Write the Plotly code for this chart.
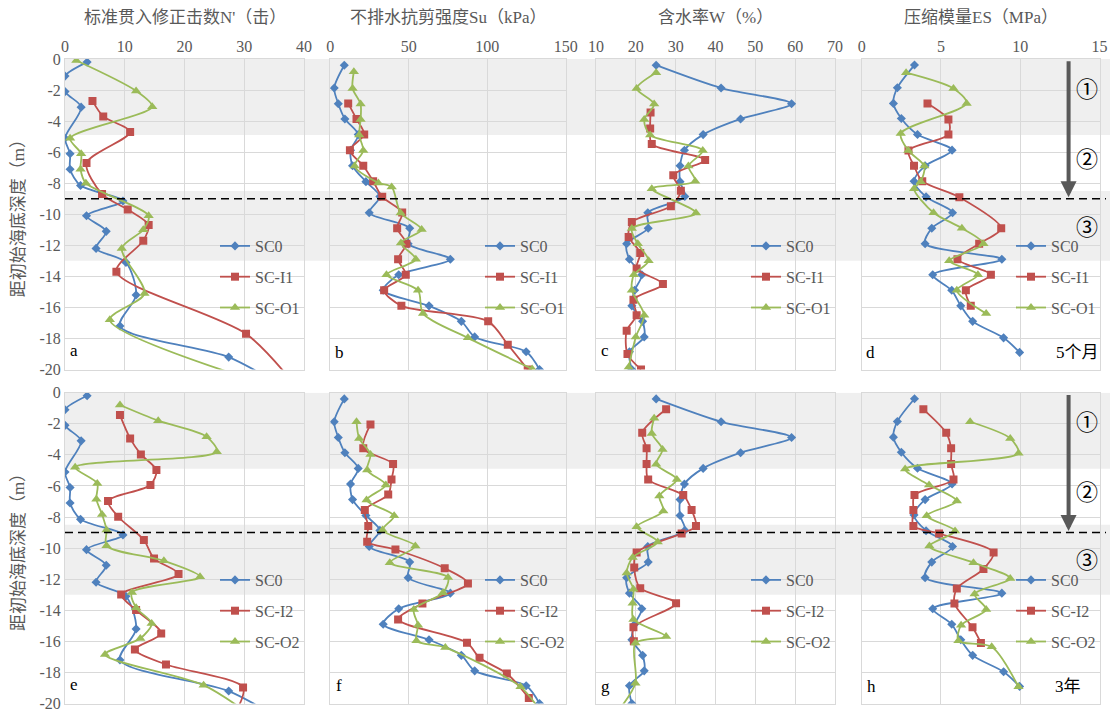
import plotly.graph_objects as go
from plotly.subplots import make_subplots

# ---------------- data ----------------
# SC0 (baseline, shared by both rows)
spt_sc0_depth = [-0.2, -1.1, -2.1, -3.1, -5.1, -6.1, -7.1, -8.15, -9.15, -10.1, -11.1, -12.2, -13.1, -15.2, -17.2, -19.2, -21.0]
spt_sc0 = [3.7, 0, 0, 2.7, 0, 0.85, 0.85, 2.6, 9.7, 3.6, 6.9, 5.2, 10.2, 11.9, 9.2, 27.4, 36]
lab_sc0_depth = [-0.4, -1.87, -2.88, -3.86, -4.87, -5.88, -6.88, -7.9, -8.86, -9.9, -10.9, -11.9, -12.9, -13.9, -14.9, -15.9, -16.9, -17.9, -18.86, -20.0]
su_sc0 = [8.9, 2.5, 5.1, 9.3, 17.8, 12.9, 14.2, 22.7, 31.6, 24.8, 50.6, 49.6, 76.5, 43.6, 33.7, 62.9, 83.5, 92.0, 124.8, 133.3]
w_sc0 = [25.1, 41.4, 59.1, 46.3, 36.9, 32.2, 31.1, 31.1, 32.3, 23.0, 23.1, 17.7, 18.4, 21.5, 19.7, 19.0, 21.7, 22.1, 18.4, 19.0]
es_sc0_depth = [-0.39, -1.85, -2.86, -3.83, -4.86, -5.87, -6.88, -7.87, -8.88, -9.9, -10.9, -11.9, -12.9, -13.9, -14.9, -15.9, -16.9, -17.96, -18.9]
es_sc0 = [3.33, 2.25, 2.0, 2.5, 3.52, 5.7, 4.0, 3.3, 4.06, 5.73, 4.42, 4.0, 8.84, 4.48, 5.68, 6.25, 7.0, 8.95, 9.96]

# 5 months: SC-I1 / SC-O1
spt_i1_depth = [-2.7, -3.7, -4.7, -6.7, -8.7, -9.7, -10.7, -11.7, -13.7, -17.7, -21.0]
spt_i1 = [4.6, 6.4, 10.9, 3.6, 6.2, 10.5, 14.0, 13.1, 8.6, 30.3, 38.5]
spt_o1_depth = [-0.1, -2.06, -3.08, -5.1, -6.1, -7.1, -8.0, -10.1, -11.0, -12.2, -15.1, -16.8, -21.0]
spt_o1 = [1.9, 11.9, 14.6, 0.85, 2.7, 2.6, 3.5, 14.0, 13.1, 9.5, 13.3, 7.5, 34]
su_i1_depth = [-2.86, -3.87, -4.86, -5.87, -6.88, -7.87, -8.88, -9.89, -10.9, -11.9, -12.9, -13.9, -14.9, -15.9, -16.9, -18.4, -20.0]
su_i1 = [11.4, 16.7, 21.6, 12.5, 21.0, 27.3, 33.1, 45.8, 42.6, 48.5, 43.2, 48.1, 34.3, 45.3, 100.6, 113.1, 125.8]
su_o1_depth = [-0.82, -1.9, -2.9, -3.9, -4.9, -5.9, -6.9, -7.98, -8.24, -9.92, -10.99, -11.85, -12.9, -13.9, -14.9, -16.4, -17.96, -19.96]
su_o1 = [15.0, 14.2, 19.3, 19.3, 18.4, 21.0, 15.5, 30.6, 39.1, 44.8, 58.2, 45.0, 54.5, 35.8, 55.9, 59.1, 87.7, 128.6]
w_i1_depth = [-3.44, -4.47, -5.48, -6.5, -7.48, -8.49, -9.48, -10.5, -11.46, -12.5, -13.5, -14.5, -15.5, -16.5, -17.5, -19.0, -20.0]
w_i1 = [23.7, 23.6, 24.0, 37.4, 29.4, 31.3, 28.8, 19.0, 18.2, 21.1, 20.2, 26.8, 19.4, 20.2, 17.7, 17.9, 21.3]
w_o1_depth = [-0.88, -1.9, -2.9, -3.9, -4.9, -5.9, -6.9, -7.87, -8.35, -9.92, -10.92, -11.9, -13.0, -13.9, -14.9, -16.5, -17.9, -19.85]
w_o1 = [25.1, 20.2, 24.6, 22.1, 23.6, 36.8, 33.2, 34.9, 24.0, 35.1, 19.0, 20.5, 23.2, 19.5, 19.0, 22.1, 20.0, 18.2]
es_i1_depth = [-2.86, -3.9, -4.86, -5.9, -6.88, -7.87, -8.9, -10.9, -11.9, -12.9, -13.9, -14.9, -15.9]
es_i1 = [4.15, 5.47, 5.47, 2.95, 3.3, 3.82, 6.16, 8.8, 7.41, 6.04, 8.15, 6.57, 6.88]
es_o1_depth = [-0.88, -1.9, -2.86, -4.8, -5.9, -6.9, -7.9, -8.35, -9.9, -10.9, -11.9, -13.0, -13.9, -14.9, -16.4]
es_o1 = [2.8, 5.79, 6.62, 2.46, 2.94, 3.95, 3.72, 3.3, 4.53, 6.32, 7.68, 5.52, 7.33, 6.0, 7.85]

# 3 years: SC-I2 / SC-O2
spt_i2_depth = [-1.44, -2.94, -3.97, -4.98, -5.94, -6.97, -7.98, -9.48, -10.67, -11.67, -12.98, -13.99, -15.49, -16.52, -17.49, -18.97, -20.6]
spt_i2 = [9.2, 10.9, 12.7, 15.3, 14.3, 7.2, 8.9, 13.2, 14.9, 19.0, 9.4, 11.9, 16.1, 11.7, 16.9, 29.8, 28.5]
spt_o2_depth = [-0.79, -1.8, -2.83, -3.8, -4.8, -5.84, -6.85, -7.83, -8.84, -9.85, -10.82, -11.85, -12.85, -13.84, -14.85, -15.82, -16.85, -18.82, -21.0]
spt_o2 = [9.2, 15.6, 23.7, 25.4, 1.7, 5.4, 5.25, 6.2, 6.95, 6.95, 16.55, 22.6, 11.2, 11.9, 14.5, 12.6, 6.7, 23.2, 32]
su_i2_depth = [-2.04, -3.58, -4.59, -5.58, -6.55, -7.55, -8.58, -9.59, -10.09, -11.3, -12.27, -13.56, -14.59, -16.09, -17.06, -18.07, -19.64]
su_i2 = [25.6, 21.0, 40.0, 39.0, 36.9, 22.0, 24.2, 23.5, 41.5, 72.9, 87.7, 58.7, 43.2, 87.1, 95.1, 112.5, 126.5]
su_o2_depth = [-1.87, -2.94, -3.97, -4.98, -5.94, -6.91, -7.92, -8.84, -9.87, -10.94, -11.89, -12.88, -13.95, -14.96, -15.97, -16.4, -18.93, -20.5]
su_o2 = [16.7, 18.4, 25.6, 23.5, 35.4, 23.1, 40.7, 33.3, 54.2, 37.9, 75.0, 71.8, 53.2, 55.9, 54.9, 73.3, 121.2, 134]
w_i2_depth = [-1.07, -2.58, -3.58, -4.59, -5.58, -6.59, -7.55, -8.58, -9.06, -10.28, -11.25, -12.58, -13.55, -15.09, -16.0]
w_i2 = [27.6, 21.6, 22.7, 22.7, 23.1, 31.9, 34.0, 35.1, 31.5, 20.2, 19.6, 21.1, 30.1, 19.4, 19.5]
w_o2_depth = [-1.65, -2.62, -3.65, -4.61, -5.58, -6.65, -7.62, -8.63, -9.6, -10.6, -11.6, -12.64, -13.55, -14.6, -15.69, -16.1, -18.7, -20.5]
w_o2 = [24.6, 24.0, 26.7, 25.1, 30.3, 25.9, 26.9, 20.2, 25.5, 19.2, 17.7, 19.4, 19.2, 19.4, 27.6, 19.9, 19.9, 15.5]
es_i2_depth = [-1.07, -2.58, -3.58, -4.59, -5.58, -6.59, -7.55, -8.58, -9.06, -10.28, -11.35, -12.6, -13.56, -15.1, -16.1]
es_i2 = [3.89, 5.33, 5.64, 5.64, 5.79, 3.33, 3.26, 3.26, 4.88, 8.32, 7.68, 6.0, 5.85, 6.99, 7.52]
es_o2_depth = [-1.87, -2.94, -3.9, -4.91, -5.94, -6.97, -7.92, -8.9, -9.87, -10.94, -11.95, -12.96, -13.95, -14.96, -15.97, -16.35, -18.93]
es_o2 = [6.84, 9.37, 9.89, 2.74, 4.25, 6.0, 4.1, 5.89, 4.27, 7.05, 9.37, 7.12, 7.85, 6.27, 6.1, 8.2, 9.89]

col_titles = ["标准贯入修正击数N'（击）", "不排水抗剪强度Su（kPa）", "含水率W（%）", "压缩模量ES（MPa）"]
x_ranges = [[0, 40], [0, 150], [10, 70], [0, 15]]
x_dticks = [10, 50, 10, 5]
panel_letters = ["a", "b", "c", "d", "e", "f", "g", "h"]
y_title = "距初始海底深度（m）"
y_ticks = list(range(0, -21, -2))
y_ticktext = [str(v) for v in y_ticks]

# ---------------- styling ----------------
W, H = 1110, 710
BLUE, RED, GREEN = "#4F81BD", "#C0504D", "#9BBB59"
GRAY_TXT = "#595959"
GRID = "#d9d9d9"
SERIF = "Liberation Serif, 'Times New Roman', 'Noto Sans CJK SC', serif"
CJK = "Liberation Serif, 'Noto Sans CJK SC', sans-serif"

xpix = [(65, 304), (330.3, 565.7), (596, 835), (861.7, 1099.5)]
ypix = [(59, 369.5), (392.7, 703.5)]

fig = make_subplots(rows=2, cols=4)


def px_x(p):
    return p / W


def px_y(p):
    return (H - p) / H


rows_data = [
    [
        (spt_sc0, spt_sc0_depth, spt_i1, spt_i1_depth, spt_o1, spt_o1_depth),
        (su_sc0, lab_sc0_depth, su_i1, su_i1_depth, su_o1, su_o1_depth),
        (w_sc0, lab_sc0_depth, w_i1, w_i1_depth, w_o1, w_o1_depth),
        (es_sc0, es_sc0_depth, es_i1, es_i1_depth, es_o1, es_o1_depth),
    ],
    [
        (spt_sc0, spt_sc0_depth, spt_i2, spt_i2_depth, spt_o2, spt_o2_depth),
        (su_sc0, lab_sc0_depth, su_i2, su_i2_depth, su_o2, su_o2_depth),
        (w_sc0, lab_sc0_depth, w_i2, w_i2_depth, w_o2, w_o2_depth),
        (es_sc0, es_sc0_depth, es_i2, es_i2_depth, es_o2, es_o2_depth),
    ],
]
names = [["SC0", "SC-I1", "SC-O1"], ["SC0", "SC-I2", "SC-O2"]]
legend_text_x = [255, 520, 786, 1051]
legend_top_y = [229, 563]

for r in range(2):
    for c in range(4):
        idx = r * 4 + c + 1
        lg = "legend" if idx == 1 else f"legend{idx}"
        v0, d0, v1, d1, v2, d2 = rows_data[r][c]
        specs = [
            (v0, d0, names[r][0], BLUE, "diamond", 7),
            (v1, d1, names[r][1], RED, "square", 8),
            (v2, d2, names[r][2], GREEN, "triangle-up", 9),
        ]
        for k, (vx, vy, nm, colr, sym, ms) in enumerate(specs):
            fig.add_trace(
                go.Scatter(
                    x=vx, y=vy, name=nm, mode="lines+markers",
                    line=dict(color=colr, width=1.8, shape="spline", smoothing=0.8),
                    marker=dict(color=colr, symbol=sym, size=ms),
                    legend=lg, legendgroup=f"g{idx}_{k}", showlegend=True,
                ),
                row=r + 1, col=c + 1,
            )
        xa = "xaxis" if idx == 1 else f"xaxis{idx}"
        ya = "yaxis" if idx == 1 else f"yaxis{idx}"
        fig.layout[xa].update(
            domain=[px_x(xpix[c][0]), px_x(xpix[c][1])],
            range=x_ranges[c], dtick=x_dticks[c], tick0=0,
            side="top", showticklabels=(r == 0), automargin=False,
            showgrid=True, gridcolor=GRID, gridwidth=1,
            showline=True, linecolor=GRID, mirror=True, zeroline=False,
            ticks="", tickfont=dict(family=SERIF, size=16, color=GRAY_TXT),
            fixedrange=True, ticklabeloverflow="allow",
        )
        fig.layout[ya].update(
            domain=[px_y(ypix[r][1]), px_y(ypix[r][0])],
            range=[-20, 0], tickvals=y_ticks, ticktext=y_ticktext,
            showticklabels=(c == 0), automargin=False,
            showgrid=True, gridcolor=GRID, gridwidth=1,
            showline=True, linecolor=GRID, mirror=True, zeroline=False,
            ticks="", tickfont=dict(family=SERIF, size=16, color=GRAY_TXT),
            fixedrange=True, ticklabeloverflow="allow",
        )
        fig.layout[lg] = dict(
            x=px_x(legend_text_x[c] - 40), y=px_y(legend_top_y[r]),
            xanchor="left", yanchor="top",
            bgcolor="rgba(0,0,0,0)", borderwidth=0,
            font=dict(family=SERIF, size=16, color=GRAY_TXT),
            tracegroupgap=7, itemwidth=30,
        )

shapes = []
annotations = []


def txt_ann(text, x, y, font, angle=0):
    return dict(text=text, xref="paper", yref="paper", x=px_x(x), y=px_y(y),
                xanchor="center", yanchor="middle", showarrow=False,
                textangle=angle, font=font)


for r in range(2):
    yref = "y" if r == 0 else "y5"
    for (y0, y1) in [(0, -4.9), (-8.5, -13)]:
        shapes.append(dict(type="rect", xref="paper", yref=yref,
                           x0=px_x(65), x1=1.0, y0=y0, y1=y1,
                           fillcolor="#efefef", line=dict(width=0), layer="below"))
    shapes.append(dict(type="line", xref="paper", yref=yref,
                       x0=px_x(65), x1=px_x(1106), y0=-9, y1=-9,
                       line=dict(color="black", width=1.6, dash="8px,5px"), layer="above"))
    annotations.append(txt_ann(y_title, 18, (ypix[r][0] + ypix[r][1]) / 2,
                               dict(family=CJK, size=17, color=GRAY_TXT), angle=-90))
    xr = "x4" if r == 0 else "x8"
    yr2 = "y4" if r == 0 else "y8"
    annotations.append(dict(x=13.05, y=-8.9, ax=13.05, ay=-0.05, xref=xr, yref=yr2,
                            axref=xr, ayref=yr2, text="", showarrow=True,
                            arrowhead=2, arrowsize=0.8, arrowwidth=4,
                            arrowcolor="#595959", standoff=0))
    for txt, yy in zip(["①", "②", "③"], [(86.7, 156.7, 225), (420, 490, 558)][r]):
        annotations.append(txt_ann(txt, 1087, yy,
                                   dict(family="'Noto Sans CJK SC'", size=22, color="black")))

for c in range(4):
    annotations.append(txt_ann(col_titles[c], (xpix[c][0] + xpix[c][1]) / 2, 18,
                               dict(family=CJK, size=17, color=GRAY_TXT)))

letter_pos = [(74, 350), (339.5, 352), (605, 350), (870.5, 352),
              (74, 684), (338.5, 685), (605, 686.5), (871, 686.5)]
for lt, (lx, ly) in zip(panel_letters, letter_pos):
    annotations.append(txt_ann(lt, lx, ly, dict(family=SERIF, size=17, color="black")))
annotations.append(txt_ann("5个月", 1077, 352, dict(family=CJK, size=17, color="black")))
annotations.append(txt_ann("3年", 1068, 686.5, dict(family=CJK, size=17, color="black")))

fig.update_layout(
    width=W, height=H, autosize=False, margin=dict(l=0, r=0, t=0, b=0, pad=0),
    paper_bgcolor="white", plot_bgcolor="rgba(0,0,0,0)",
    shapes=shapes, annotations=annotations,
    font=dict(family=SERIF, color=GRAY_TXT),
)

post = (
    "var st=document.createElement('style');"
    "st.innerHTML='html,body{margin:0 !important;padding:0 !important;overflow:hidden;}';"
    "document.head.appendChild(st);"
)
fig.write_html("out.html", config={"displayModeBar": False},
               default_width="1110px", default_height="710px", post_script=post)
